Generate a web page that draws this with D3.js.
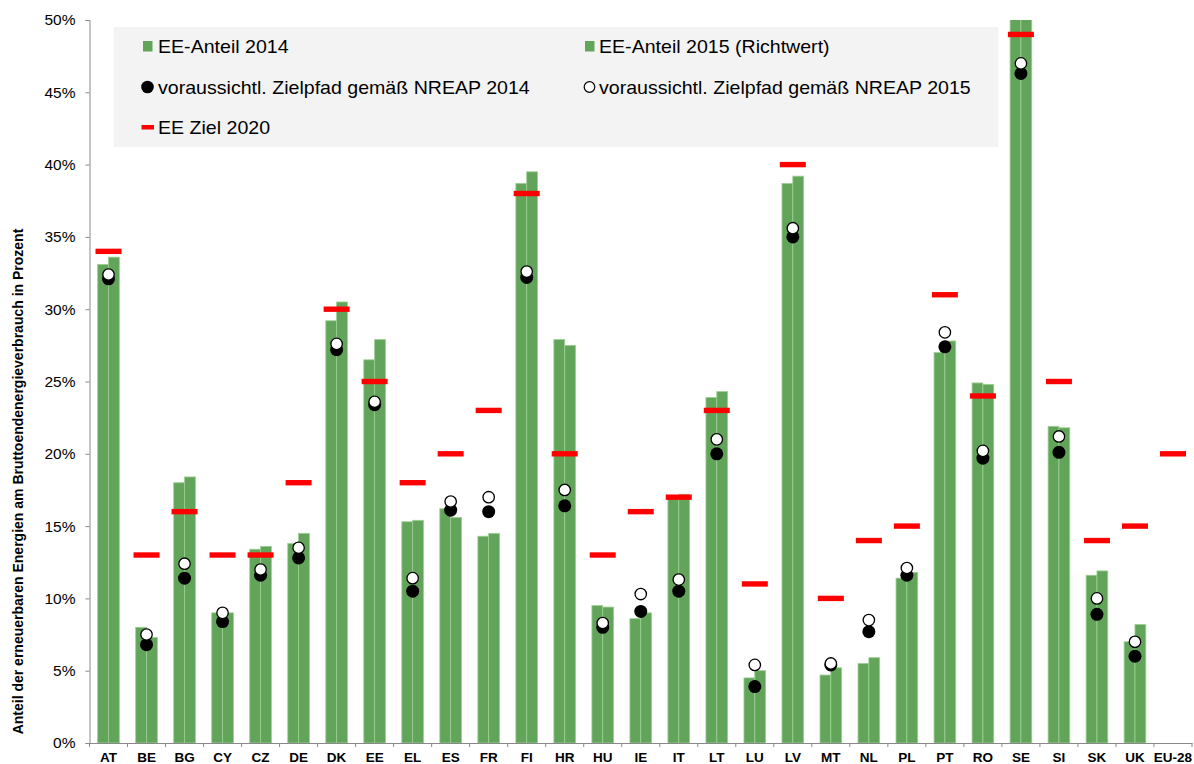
<!DOCTYPE html>
<html>
<head>
<meta charset="utf-8">
<script src="https://cdn.jsdelivr.net/npm/d3@7"></script>
<style>
  html, body { margin: 0; padding: 0; background: #fff; }
  svg { display: block; font-family: "Liberation Sans", Arial, sans-serif; }
</style>
</head>
<body>
<svg id="chart" width="1194" height="764"></svg>
<script>
const categories = ["AT","BE","BG","CY","CZ","DE","DK","EE","EL","ES","FR","FI","HR","HU","IE","IT","LT","LU","LV","MT","NL","PL","PT","RO","SE","SI","SK","UK","EU-28"];
const share2014 = [33.1,8.0,18.0,9.0,13.4,13.8,29.2,26.5,15.3,16.2,14.3,38.7,27.9,9.5,8.6,17.1,23.9,4.5,38.7,4.7,5.5,11.4,27.0,24.9,52.6,21.9,11.6,7.0,null];
const share2015 = [33.6,7.3,18.4,9.0,13.6,14.5,30.5,27.9,15.4,15.6,14.5,39.5,27.5,9.4,9.0,17.2,24.3,5.0,39.2,5.2,5.9,11.8,27.8,24.8,53.9,21.8,11.9,8.2,null];
const nreap2014 = [32.1,6.8,11.4,8.4,11.6,12.8,27.2,23.4,10.5,16.1,16.0,32.2,16.4,8.0,9.1,10.5,20.0,3.9,35.0,5.4,7.7,11.6,27.4,19.7,46.3,20.1,8.9,6.0,null];
const nreap2015 = [32.4,7.5,12.4,9.0,12.0,13.5,27.6,23.6,11.4,16.7,17.0,32.6,17.5,8.3,10.3,11.3,21.0,5.4,35.6,5.5,8.5,12.1,28.4,20.2,47.0,21.2,10.0,7.0,null];
const target2020 = [34,13,16,13,13,18,30,25,18,20,23,38,20,13,16,17,23,11,40,10,14,15,31,24,49,25,14,15,20];
const yTicks = [0,5,10,15,20,25,30,35,40,45,50];
const legendLabels = ["EE-Anteil 2014","EE-Anteil 2015 (Richtwert)","voraussichtl. Zielpfad gemäß NREAP 2014","voraussichtl. Zielpfad gemäß NREAP 2015","EE Ziel 2020"];
const yTitle = "Anteil der erneuerbaren Energien am Bruttoendenergieverbrauch in Prozent";

const svg = d3.select("#chart");
const pLeft = 89.5, pRight = 1192, pTop = 20, pBottom = 743;
const axisColor = "#898989";
const barColor = "#62a55a";
const barStroke = "#9ccf93";

const x = d3.scaleBand().domain(categories).range([pLeft, pRight]).paddingInner(0).paddingOuter(0);
const bw = x.bandwidth();
const x1 = d3.scaleBand().domain(["2014","2015"]).range([bw*0.215, bw*0.785]);
const y = d3.scaleLinear().domain([0,50]).range([pBottom, pTop]);

const rows = categories.map((c,i) => ({c, s14: share2014[i], s15: share2015[i], n14: nreap2014[i], n15: nreap2015[i], t: target2020[i]}));

svg.append("defs").append("clipPath").attr("id","plotclip")
  .append("rect").attr("x", pLeft).attr("y", pTop).attr("width", pRight-pLeft).attr("height", pBottom-pTop);

// Legend background
const legend = svg.append("g");
legend.append("rect").attr("x",114).attr("y",27).attr("width",884).attr("height",120).attr("fill","#f3f3f3");

// Bars
const barsG = svg.append("g").attr("clip-path","url(#plotclip)");
rows.forEach(r => {
  [["2014", r.s14], ["2015", r.s15]].forEach(([k, v]) => {
    if (v == null) return;
    barsG.append("rect")
      .attr("x", x(r.c) + x1(k))
      .attr("y", y(v))
      .attr("width", x1.bandwidth())
      .attr("height", y(0) - y(v))
      .attr("fill", barColor)
      .attr("stroke", barStroke)
      .attr("stroke-width", 0.8);
  });
});

// Axes
const yAxis = d3.axisLeft(y).tickValues(yTicks).tickFormat(d => d + "%").tickSize(4).tickPadding(10);
const gy = svg.append("g").attr("transform", `translate(${pLeft},0)`).call(yAxis);
gy.select(".domain").attr("stroke", axisColor);
gy.selectAll(".tick line").attr("stroke", axisColor);
gy.selectAll(".tick text").attr("font-size", "15.5px").attr("fill", "#000").attr("font-family", "Liberation Sans, Arial, sans-serif");

const xAxis = d3.axisBottom(x).tickSize(0).tickPadding(0);
const gx = svg.append("g").attr("transform", `translate(0,${pBottom})`).call(xAxis);
gx.select(".domain").attr("stroke", axisColor);
gx.selectAll(".tick text").attr("y", 19).attr("dy", 0).attr("font-size", "13.5px").attr("font-weight", "bold").attr("fill", "#000").attr("font-family", "Liberation Sans, Arial, sans-serif");
const bounds = categories.map(c => x(c)).concat([x(categories[categories.length-1]) + bw]);
gx.selectAll("line.bnd").data(bounds).enter().append("line").attr("class","bnd")
  .attr("x1", d => d).attr("x2", d => d).attr("y1", 0).attr("y2", 4).attr("stroke", axisColor);

// Target dashes
const markG = svg.append("g");
const cx = c => x(c) + bw/2;
rows.forEach(r => {
  if (r.t == null) return;
  markG.append("rect").attr("x", cx(r.c) - 13).attr("y", y(r.t) - 2.7).attr("width", 26).attr("height", 5.4).attr("fill", "#ff0000");
});
// NREAP markers
rows.forEach(r => {
  if (r.n14 != null) markG.append("circle").attr("cx", cx(r.c)).attr("cy", y(r.n14)).attr("r", 6.5).attr("fill", "#000");
});
rows.forEach(r => {
  if (r.n15 != null) markG.append("circle").attr("cx", cx(r.c)).attr("cy", y(r.n15)).attr("r", 5.7).attr("fill", "#fff").attr("stroke", "#000").attr("stroke-width", 1.3);
});

// Legend entries
const ls = 1.1;
function legText(tx, ty, s) {
  legend.append("text").attr("transform", `translate(${tx},${ty}) scale(${ls},1)`).attr("font-size", "17.8px").attr("fill", "#000").text(s);
}
legend.append("rect").attr("x",143).attr("y",41).attr("width",9.5).attr("height",10.5).attr("fill",barColor);
legText(158, 53, legendLabels[0]);
legend.append("rect").attr("x",585).attr("y",41).attr("width",9.5).attr("height",10.5).attr("fill",barColor);
legText(599, 53, legendLabels[1]);
legend.append("circle").attr("cx",147.5).attr("cy",87).attr("r",6.3).attr("fill","#000");
legText(158, 93.5, legendLabels[2]);
legend.append("circle").attr("cx",589.5).attr("cy",87).attr("r",5.3).attr("fill","#fff").attr("stroke","#000").attr("stroke-width",1.2);
legText(599, 93.5, legendLabels[3]);
legend.append("rect").attr("x",141.5).attr("y",125).attr("width",12.5).attr("height",4.5).attr("fill","#ff0000");
legText(158, 133.5, legendLabels[4]);

// Y title
svg.append("text")
  .attr("transform", `translate(23,${(pTop+pBottom)/2 + 100}) rotate(-90)`)
  .attr("text-anchor", "middle")
  .attr("font-size", "14px").attr("font-weight", "bold").attr("fill", "#000")
  .text(yTitle);
</script>
</body>
</html>
